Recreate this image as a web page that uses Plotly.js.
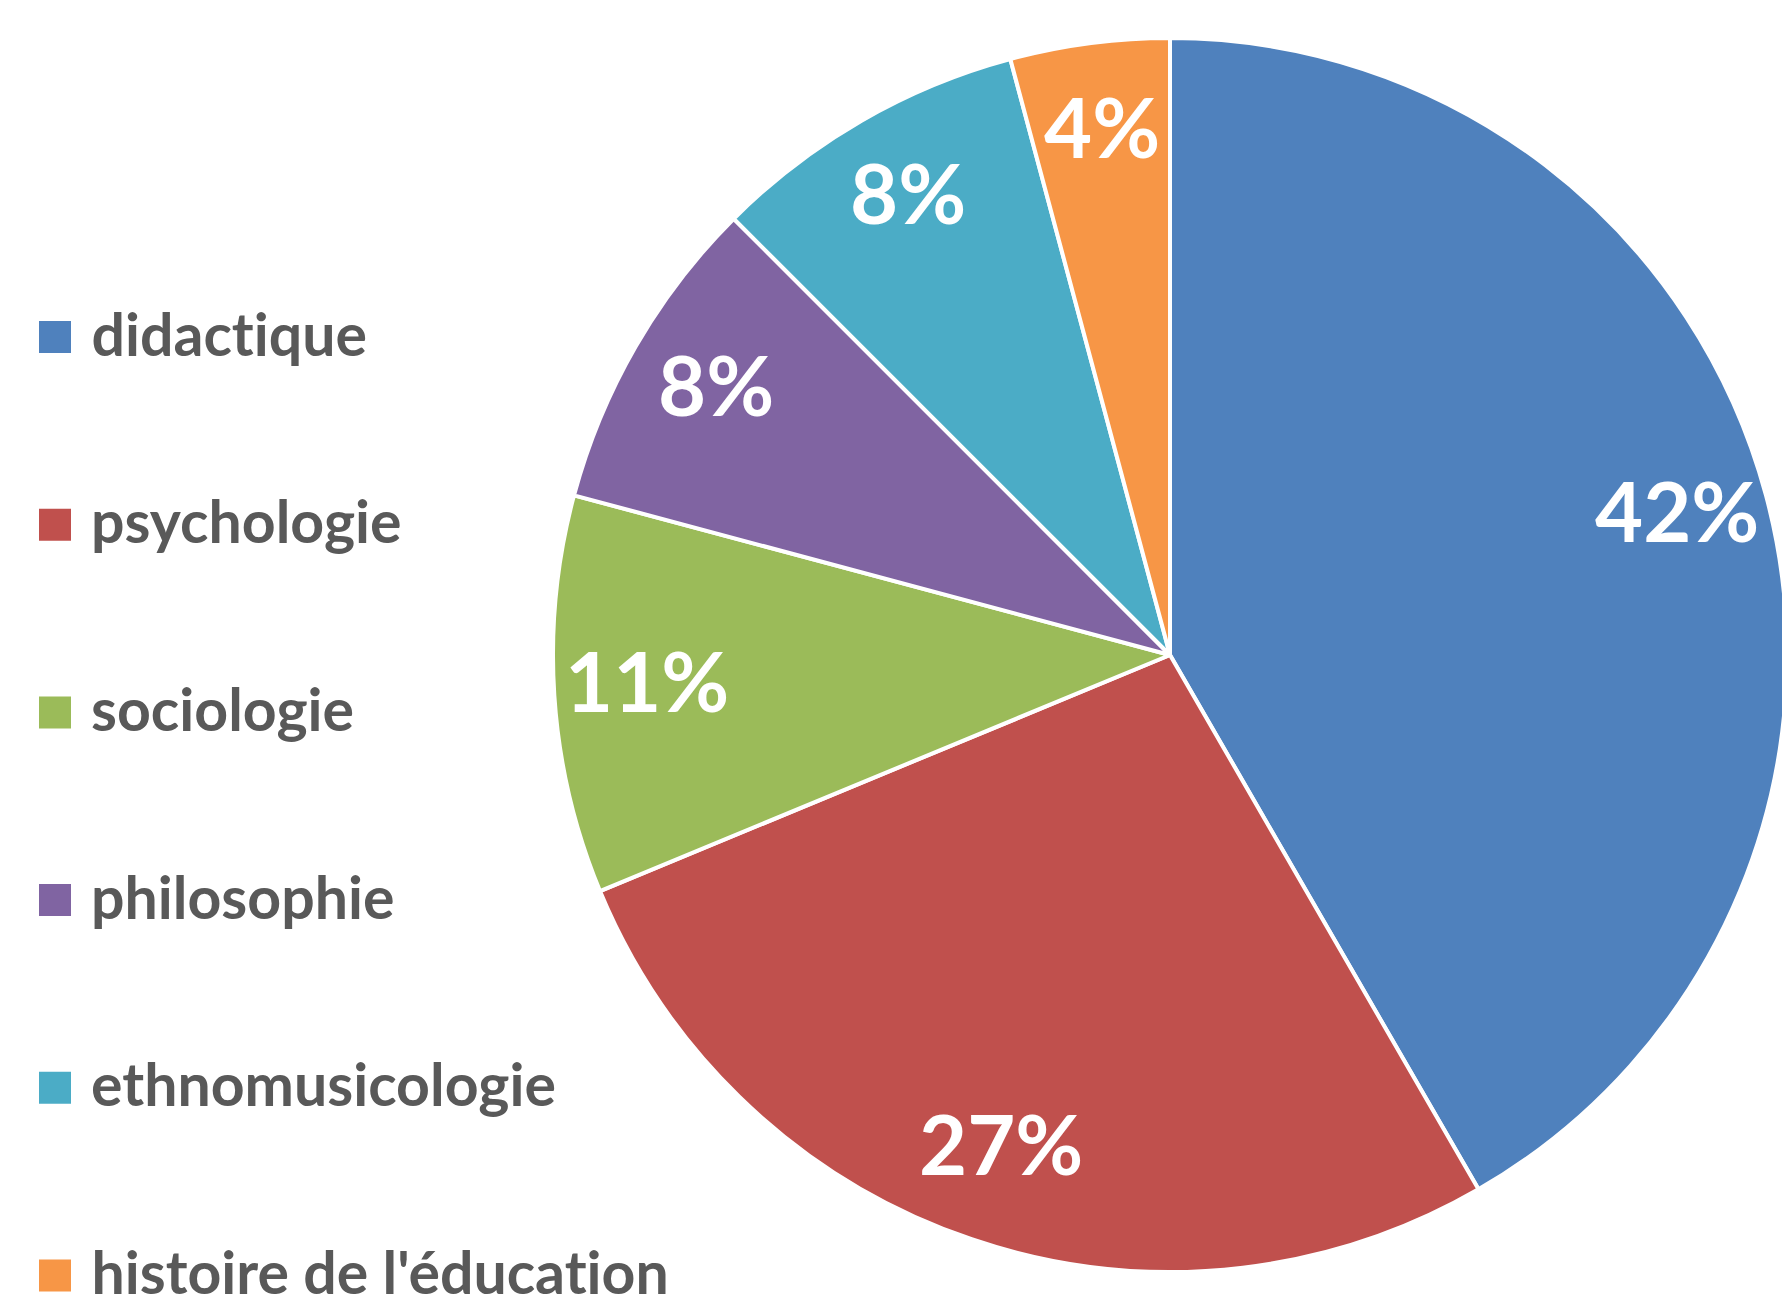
<!DOCTYPE html>
<html>
<head>
<meta charset="utf-8">
<script src="https://cdn.plot.ly/plotly-3.0.1.min.js"></script>
<style>
html, body { margin: 0; padding: 0; overflow: hidden; background: #fff; }
#chart { width: 1800px; height: 1297px; }
#chart text { font-variant-ligatures: none; font-feature-settings: "liga" 0, "clig" 0; }
</style>
</head>
<body>
<div id="chart"></div>
<script>
// Data (slice sizes; labels as printed on the chart)
const categories = ["didactique", "psychologie", "sociologie", "philosophie", "ethnomusicologie", "histoire de l'éducation"];
const counts = [20, 13, 5, 4, 4, 2];
const percentLabels = ["42%", "27%", "11%", "8%", "8%", "4%"];
const sliceColors = ["#4F81BD", "#C0504D", "#9BBB59", "#8064A2", "#4BACC6", "#F79646"];

// Layout geometry (pixels)
const W = 1800, H = 1297;
const CX = 1170, CY = 655, R = 617;
const labelRadiusFrac = 0.85;

const total = counts.reduce((a, b) => a + b, 0);

const trace = {
  type: "pie",
  labels: categories,
  values: counts,
  sort: false,
  direction: "clockwise",
  rotation: 0,
  marker: { colors: sliceColors, line: { color: "#ffffff", width: 4 } },
  textinfo: "none",
  hoverinfo: "label+percent",
  showlegend: false,
  domain: {
    x: [(CX - R) / W, (CX + R) / W],
    y: [(H - (CY + R)) / H, (H - (CY - R)) / H]
  }
};

const annotations = [];
const shapes = [];

// Percent labels placed at slice mid-angles computed from the data
let cum = 0;
counts.forEach((v, i) => {
  const mid = (cum + v / 2) / total * 2 * Math.PI;
  cum += v;
  const px = CX + labelRadiusFrac * R * Math.sin(mid);
  const py = CY - labelRadiusFrac * R * Math.cos(mid);
  annotations.push({
    text: percentLabels[i],
    xref: "paper", yref: "paper",
    x: px / W, y: 1 - py / H,
    xanchor: "center", yanchor: "middle",
    yshift: 9,
    showarrow: false,
    font: { family: "Lato, 'Open Sans', sans-serif", size: 83, color: "#ffffff", weight: 700 }
  });
});

// Legend
const legTop = 337, legStep = 187.7, sq = 32, legX = 39, legTextX = 89;
categories.forEach((c, i) => {
  const yc = legTop + i * legStep;
  shapes.push({
    type: "rect", xref: "paper", yref: "paper",
    x0: legX / W, x1: (legX + sq) / W,
    y0: 1 - (yc + sq / 2) / H, y1: 1 - (yc - sq / 2) / H,
    fillcolor: sliceColors[i], line: { width: 0 }
  });
  annotations.push({
    text: c,
    xref: "paper", yref: "paper",
    x: legTextX / W, y: 1 - (yc - 4) / H,
    xanchor: "left", yanchor: "middle",
    showarrow: false,
    font: { family: "Lato, 'Open Sans', sans-serif", size: 59, color: "#595959", weight: 700 }
  });
});

const layout = {
  width: W, height: H,
  margin: { l: 0, r: 0, t: 0, b: 0, pad: 0 },
  paper_bgcolor: "#ffffff",
  showlegend: false,
  annotations: annotations,
  shapes: shapes
};

Plotly.newPlot("chart", [trace], layout, { displayModeBar: false, staticPlot: true });
</script>
</body>
</html>
